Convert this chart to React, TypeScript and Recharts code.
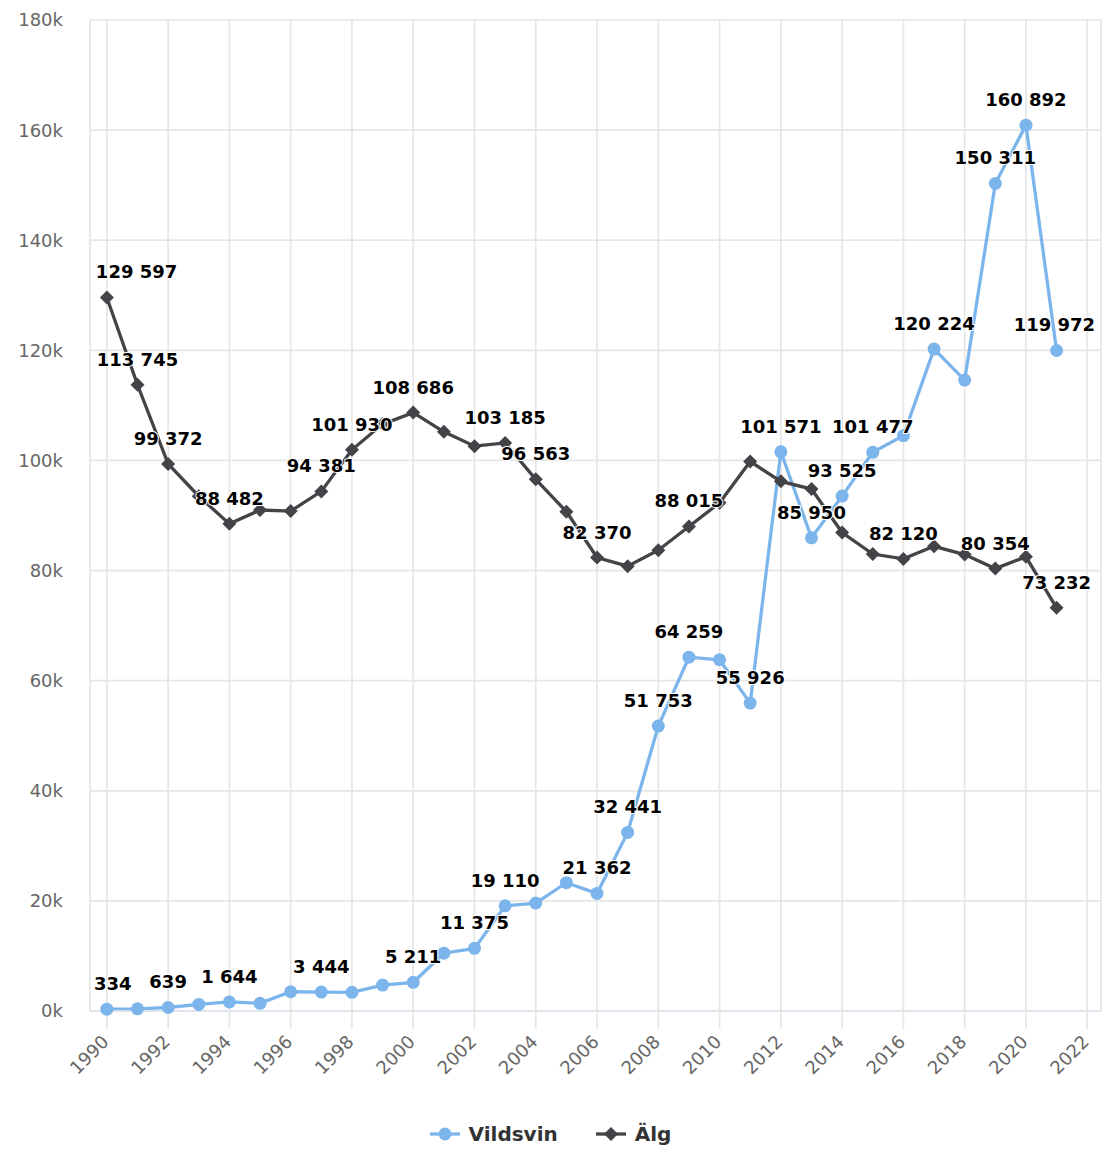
import React from 'react';
import { LineChart, Line, XAxis, YAxis, CartesianGrid, Legend, LabelList } from 'recharts';

const years = [
    1990, 1991, 1992, 1993, 1994, 1995, 1996, 1997, 1998, 1999, 2000,
    2001, 2002, 2003, 2004, 2005, 2006, 2007, 2008, 2009, 2010, 2011,
    2012, 2013, 2014, 2015, 2016, 2017, 2018, 2019, 2020, 2021,
];

const vildsvin = [
    334, 400, 639, 1200, 1644, 1400, 3500, 3444, 3400, 4700, 5211,
    10500, 11375, 19110, 19600, 23300, 21362, 32441, 51753, 64259, 63800, 55926,
    101571, 85950, 93525, 101477, 104500, 120224, 114600, 150311, 160892, 119972,
];

const alg = [
    129597, 113745, 99372, 93500, 88482, 91000, 90800, 94381, 101930, 106600, 108686,
    105200, 102600, 103185, 96563, 90700, 82370, 80800, 83700, 88015, 92300, 99800,
    96200, 94800, 86900, 83000, 82120, 84400, 82900, 80354, 82500, 73232,
];

// years whose value label is visible (the rest were hidden for overlap)
const vildsvinLabelYears = [1990, 1992, 1994, 1997, 2000, 2002, 2003, 2006, 2007, 2008, 2009, 2011, 2012, 2013, 2014, 2015, 2017, 2019, 2020, 2021];
const algLabelYears = [1990, 1991, 1992, 1994, 1997, 1998, 2000, 2003, 2004, 2006, 2009, 2016, 2019, 2021];

const xTicks = [1990, 1992, 1994, 1996, 1998, 2000, 2002, 2004, 2006, 2008, 2010, 2012, 2014, 2016, 2018, 2020, 2022];
const yTicks = [0, 20000, 40000, 60000, 80000, 100000, 120000, 140000, 160000, 180000];

const VILDSVIN_COLOR = '#7cb5ec';
const ALG_COLOR = '#434348';
const FONT = '"DejaVu Sans", "Lucida Grande", Arial, sans-serif';
const PLOT_LEFT = 90;
const PLOT_RIGHT = 1101;

const data = years.map((year, i) => ({
    year,
    vildsvin: vildsvin[i],
    alg: alg[i],
    vildsvinLabel: vildsvinLabelYears.includes(year) ? vildsvin[i] : null,
    algLabel: algLabelYears.includes(year) ? alg[i] : null,
}));

const fmt = (n: number) => String(n).replace(/\B(?=(\d{3})+(?!\d))/g, ' ');

function ValueLabel(props: any) {
    const { x, y, value } = props;
    if (value === null || value === undefined) return null;
    const text = fmt(value);
    // keep the label inside the plot area, with a little padding
    const w = text.length * 0.66 * 18 + 10;
    let cx = x;
    if (cx - w / 2 < PLOT_LEFT) cx = PLOT_LEFT + w / 2;
    if (cx + w / 2 > PLOT_RIGHT) cx = PLOT_RIGHT - w / 2;
    return (
        <text
            x={cx}
            y={y - 19}
            textAnchor="middle"
            fontFamily={FONT}
            fontSize={18}
            fontWeight="bold"
            fill="#000"
            stroke="#fff"
            strokeWidth={2}
            strokeLinejoin="round"
            paintOrder="stroke"
        >
            {text}
        </text>
    );
}

function Diamond(props: any) {
    const { cx, cy, index } = props;
    if (cx == null || cy == null) return null;
    const r = 7;
    return (
        <path
            key={`d-${index}`}
            d={`M${cx},${cy - r}L${cx + r},${cy}L${cx},${cy + r}L${cx - r},${cy}Z`}
            fill={ALG_COLOR}
        />
    );
}

function XTick({ x, y, payload }: any) {
    return (
        <text
            x={0}
            y={0}
            transform={`translate(${x + 3},${y + 12}) rotate(-45)`}
            textAnchor="end"
            fill="#666"
            fontSize={18}
            fontFamily={FONT}
        >
            {payload.value}
        </text>
    );
}

function LegendContent() {
    return (
        <div style={{ display: 'flex', justifyContent: 'center', alignItems: 'center', gap: 38, fontFamily: FONT, fontSize: 20, fontWeight: 'bold', color: '#333' }}>
            <div style={{ display: 'flex', alignItems: 'center', gap: 9 }}>
                <svg width={30} height={16}>
                    <line x1={0} y1={8} x2={30} y2={8} stroke={VILDSVIN_COLOR} strokeWidth={3.3} />
                    <circle cx={15} cy={8} r={6.5} fill={VILDSVIN_COLOR} />
                </svg>
                <span>Vildsvin</span>
            </div>
            <div style={{ display: 'flex', alignItems: 'center', gap: 9 }}>
                <svg width={30} height={16}>
                    <line x1={0} y1={8} x2={30} y2={8} stroke={ALG_COLOR} strokeWidth={3.3} />
                    <path d="M15,1L22,8L15,15L8,8Z" fill={ALG_COLOR} />
                </svg>
                <span>Älg</span>
            </div>
        </div>
    );
}

export default function App() {
    return (
        <div style={{ position: 'absolute', left: 0, top: 0, background: '#fff' }}>
            <LineChart width={1104} height={1152} data={data} margin={{ top: 20, right: 3, left: 0, bottom: 0 }}>
                <CartesianGrid stroke="#e6e6e6" strokeWidth={1.7} />
                <XAxis
                    dataKey="year"
                    type="number"
                    domain={[1989.45, 2022.45]}
                    ticks={xTicks}
                    allowDataOverflow
                    interval={0}
                    height={111}
                    tickSize={18}
                    tick={<XTick />}
                    tickLine={{ stroke: '#e6e6e6', strokeWidth: 1.7 }}
                    axisLine={{ stroke: '#dde3ee', strokeWidth: 1.7 }}
                />
                <YAxis
                    type="number"
                    domain={[0, 180000]}
                    ticks={yTicks}
                    width={90}
                    tickSize={0}
                    tickMargin={27}
                    axisLine={false}
                    tickLine={false}
                    tickFormatter={(v: number) => `${v / 1000}k`}
                    tick={{ fill: '#666', fontSize: 18, fontFamily: FONT }}
                />
                <Line
                    dataKey="vildsvin"
                    name="Vildsvin"
                    stroke={VILDSVIN_COLOR}
                    strokeWidth={3.3}
                    dot={{ r: 6.5, fill: VILDSVIN_COLOR, stroke: 'none' }}
                    activeDot={false}
                    isAnimationActive={false}
                />
                <Line
                    dataKey="alg"
                    name="Älg"
                    stroke={ALG_COLOR}
                    strokeWidth={3.3}
                    dot={<Diamond />}
                    activeDot={false}
                    isAnimationActive={false}
                />
                <Line dataKey="vildsvin" stroke="none" dot={false} activeDot={false} legendType="none" isAnimationActive={false}>
                    <LabelList dataKey="vildsvinLabel" content={<ValueLabel />} />
                </Line>
                <Line dataKey="alg" stroke="none" dot={false} activeDot={false} legendType="none" isAnimationActive={false}>
                    <LabelList dataKey="algLabel" content={<ValueLabel />} />
                </Line>
                <Legend verticalAlign="bottom" height={30} content={<LegendContent />} />
            </LineChart>
        </div>
    );
}
